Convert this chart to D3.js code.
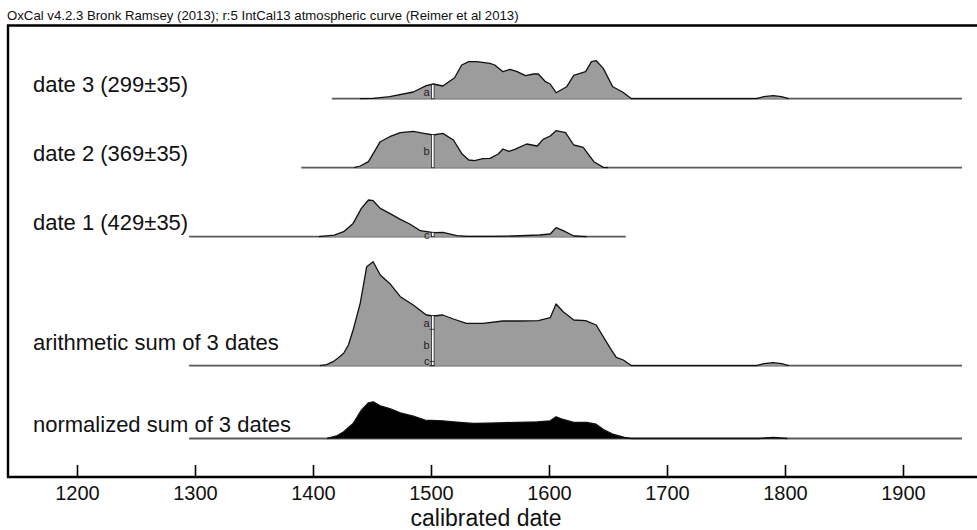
<!DOCTYPE html>
<html>
<head>
<meta charset="utf-8">
<script src="https://cdn.jsdelivr.net/npm/d3@7"></script>
<style>
  html, body { margin: 0; padding: 0; background: #fff; }
  svg { display: block; font-family: "Liberation Sans", Arial, sans-serif; }
</style>
</head>
<body>
<svg id="chart" width="977" height="530"></svg>
<script>
// ---------------- data ----------------
const chartTitle = "OxCal v4.2.3 Bronk Ramsey (2013); r:5 IntCal13 atmospheric curve (Reimer et al 2013)";
const axisTitle = "calibrated date";
const tickYears = [1200, 1300, 1400, 1500, 1600, 1700, 1800, 1900];

const seriesNames = ["date 3 (299±35)", "date 2 (369±35)", "date 1 (429±35)",
                     "arithmetic sum of 3 dates", "normalized sum of 3 dates"];
const rangeStart = [1416, 1390, 1295, 1295, 1295];
const rangeEnd   = [1950, 1950, 1665, 1950, 1950];
const markerYear = 1500;
const markerLetters = ["a", "b", "c"];

// date 3 (299±35)
const date3Years = [1416, 1440, 1451, 1465, 1485, 1496, 1502, 1510, 1520, 1526, 1532, 1539, 1550, 1554,
  1561, 1567, 1573, 1580, 1587, 1591, 1597, 1601, 1606, 1615, 1621, 1631, 1636, 1640, 1646, 1654,
  1662, 1670, 1776, 1782, 1790, 1797, 1803, 1950];
const date3Prob = [0, 0, 0.3, 2, 6.7, 13, 14.7, 12.7, 21, 33.7, 37, 37, 35.3, 33.7,
  27, 29.3, 27, 23, 24.7, 24.7, 17, 14.7, 6, 12, 23.3, 27, 37, 38, 30.3, 12,
  7, 0, 0, 2, 3, 2, 0, 0];

// date 2 (369±35)
const date2Years = [1390, 1435, 1440, 1447, 1457, 1465, 1474, 1485, 1494, 1502, 1510, 1519, 1526, 1532,
  1537, 1544, 1550, 1557, 1561, 1566, 1571, 1581, 1590, 1595, 1601, 1606, 1614, 1621, 1629, 1638,
  1646, 1650, 1950];
const date2Prob = [0, 0, 1.7, 6, 26, 31, 35, 36.3, 34.3, 32.7, 34.3, 27.7, 14.3, 7.7,
  7, 9, 9.3, 13.7, 18.7, 16.3, 18.3, 23.7, 21.7, 28.3, 31.7, 37, 35, 22.7, 20.3, 6,
  0.3, 0, 0];

// date 1 (429±35)
const date1Years = [1295, 1405, 1418, 1426, 1434, 1441, 1447, 1451, 1457, 1465, 1474, 1482, 1491, 1502,
  1510, 1522, 1530, 1550, 1570, 1592, 1601, 1606, 1612, 1621, 1632, 1665];
const date1Prob = [0, 0, 1.5, 5, 13.3, 28.3, 36.7, 36, 28.3, 23.3, 17.3, 12.7, 6, 4,
  4.3, 1, 0.3, 0.3, 0.7, 1.7, 2.7, 9, 6, 0.7, 0, 0];

// arithmetic sum of 3 dates
const sumYears = [1295, 1406, 1411.6, 1417, 1421, 1426, 1430, 1434, 1437, 1440, 1443, 1445.5, 1451, 1457,
  1465, 1474, 1485, 1496, 1502, 1510, 1519, 1530, 1544, 1561, 1575, 1591, 1601, 1606, 1612, 1621,
  1631, 1640, 1652, 1657, 1663, 1670, 1776, 1782, 1790, 1797, 1803, 1950];
const sumProb = [0, 0, 1, 4, 7.4, 12.4, 20.7, 35.7, 49, 62.4, 82.4, 99, 104, 90.7,
  82.3, 69, 60.7, 50.7, 49.7, 50.7, 46.7, 42.3, 42.3, 44.7, 44.7, 45, 48, 61.7, 54, 45.7,
  45, 40.7, 17.3, 8.3, 5.7, 0, 0, 2, 3, 2, 0, 0];

// normalized sum of 3 dates
const normYears = [1295, 1412, 1420, 1426, 1434, 1441, 1447, 1451, 1457, 1465, 1474, 1485, 1495, 1510,
  1519, 1536, 1558, 1590, 1601, 1606, 1612, 1621, 1632, 1640, 1647, 1654, 1664, 1670, 1778, 1790,
  1802, 1950];
const normProb = [0, 0, 2.5, 6.7, 15, 28.3, 35.7, 36.7, 32.7, 30, 25.7, 22.3, 18.3, 17.7,
  16.7, 15, 15.7, 16.7, 17.7, 21.7, 19, 16, 16, 14.3, 8.3, 4.3, 1, 0, 0, 1.2,
  0, 0];

// ---------------- layout ----------------
const svg = d3.select("#chart");
const W = 977, H = 530;
const frame = { left: 8, top: 25.5, right: 977, bottom: 477 };
const rowBaselines = [98.7, 167.7, 236.7, 365.7, 438.5];
const labelOffsets = [6.5, 6.5, 6.5, 15.5, 6.5];
const fills = ["#9c9c9c", "#9c9c9c", "#9c9c9c", "#9c9c9c", "#000"];

const x = d3.scaleLinear().domain([1200, 1900]).range([77, 903]);
const h = d3.scaleLinear().domain([0, 100]).range([0, 100]);

const seriesYears = [date3Years, date2Years, date1Years, sumYears, normYears];
const seriesProb  = [date3Prob, date2Prob, date1Prob, sumProb, normProb];

function interp(years, probs, yr) {
  const i = d3.bisectRight(years, yr);
  if (i <= 0) return probs[0];
  if (i >= years.length) return probs[probs.length - 1];
  const t = (yr - years[i - 1]) / (years[i] - years[i - 1]);
  return probs[i - 1] + t * (probs[i] - probs[i - 1]);
}

// title
svg.append("text")
  .attr("x", 7).attr("y", 20)
  .attr("font-size", 13.2).attr("fill", "#111")
  .text(chartTitle);

// rows
seriesNames.forEach((name, k) => {
  const base = rowBaselines[k];
  const g = svg.append("g");
  const pts = seriesYears[k].map((yr, i) => ({ yr, p: seriesProb[k][i] }));
  const probs = seriesProb[k];
  const defined = (d, i) => probs[i] > 0 || (i > 0 && probs[i - 1] > 0) || (i < probs.length - 1 && probs[i + 1] > 0);

  // baseline
  g.append("line")
    .attr("x1", x(rangeStart[k])).attr("x2", x(rangeEnd[k]))
    .attr("y1", base).attr("y2", base)
    .attr("stroke", "#5a5a5a").attr("stroke-width", 1.8);

  const area = d3.area().defined(defined)
    .x(d => x(d.yr)).y0(base).y1(d => base - h(d.p));
  const line = d3.line().defined(defined)
    .x(d => x(d.yr)).y(d => base - h(d.p));

  g.append("path").datum(pts).attr("d", area).attr("fill", fills[k]).attr("stroke", "none");
  g.append("path").datum(pts).attr("d", line).attr("fill", "none")
    .attr("stroke", "#111").attr("stroke-width", 1.3).attr("stroke-linejoin", "round");

  // label
  svg.append("text")
    .attr("x", 33).attr("y", base - labelOffsets[k])
    .attr("font-size", 22).attr("fill", "#111")
    .text(name);
});

// markers at 1500 on individual dates
const mx = x(markerYear);
[0, 1, 2].forEach(k => {
  const base = rowBaselines[k];
  const v = interp(seriesYears[k], seriesProb[k], markerYear);
  const top = base - h(v);
  svg.append("rect")
    .attr("x", mx + 0.5).attr("y", top).attr("width", 2.6).attr("height", base - top)
    .attr("fill", "#fff").attr("stroke", "#222").attr("stroke-width", 0.8);
  svg.append("text")
    .attr("x", mx - 1.5).attr("y", (top + base) / 2 + 4)
    .attr("text-anchor", "end").attr("font-size", 11).attr("fill", "#222")
    .text(markerLetters[k]);
});

// stacked marker on arithmetic sum
{
  const base = rowBaselines[3];
  const parts = [0, 1, 2].map(k => interp(seriesYears[k], seriesProb[k], markerYear));
  const total = interp(sumYears, sumProb, markerYear);
  const scale = total / d3.sum(parts);
  const top = base - h(total);
  svg.append("rect")
    .attr("x", mx + 0.5).attr("y", top).attr("width", 2.6).attr("height", base - top)
    .attr("fill", "#fff").attr("stroke", "#222").attr("stroke-width", 0.8);
  let yTop = top;
  parts.forEach((p, k) => {
    const yBot = yTop + h(p * scale);
    svg.append("line")
      .attr("x1", mx - 1.5).attr("x2", mx + 3.1).attr("y1", yBot).attr("y2", yBot)
      .attr("stroke", "#222").attr("stroke-width", 0.8);
    svg.append("text")
      .attr("x", mx - 1.5).attr("y", Math.min((yTop + yBot) / 2 + 4, base - 0.5))
      .attr("text-anchor", "end").attr("font-size", 11).attr("fill", "#222")
      .text(markerLetters[k]);
    yTop = yBot;
  });
}

// frame
svg.append("path")
  .attr("d", `M${W},${frame.top}H${frame.left}V${frame.bottom}H${W}`)
  .attr("fill", "none").attr("stroke", "#000").attr("stroke-width", 2.4);

// axis
const axis = d3.axisBottom(x).tickValues(tickYears).tickFormat(d3.format("d"))
  .tickSize(-12).tickPadding(9);
const ag = svg.append("g").attr("transform", `translate(0,${frame.bottom})`).call(axis);
ag.select(".domain").remove();
ag.selectAll(".tick line").attr("stroke", "#000").attr("stroke-width", 1.6);
ag.selectAll(".tick text").attr("font-size", 20).attr("fill", "#111")
  .attr("font-family", "'Liberation Sans', Arial, sans-serif");

svg.append("text")
  .attr("x", 486).attr("y", 526)
  .attr("text-anchor", "middle").attr("font-size", 23).attr("fill", "#111")
  .text(axisTitle);
</script>
</body>
</html>
